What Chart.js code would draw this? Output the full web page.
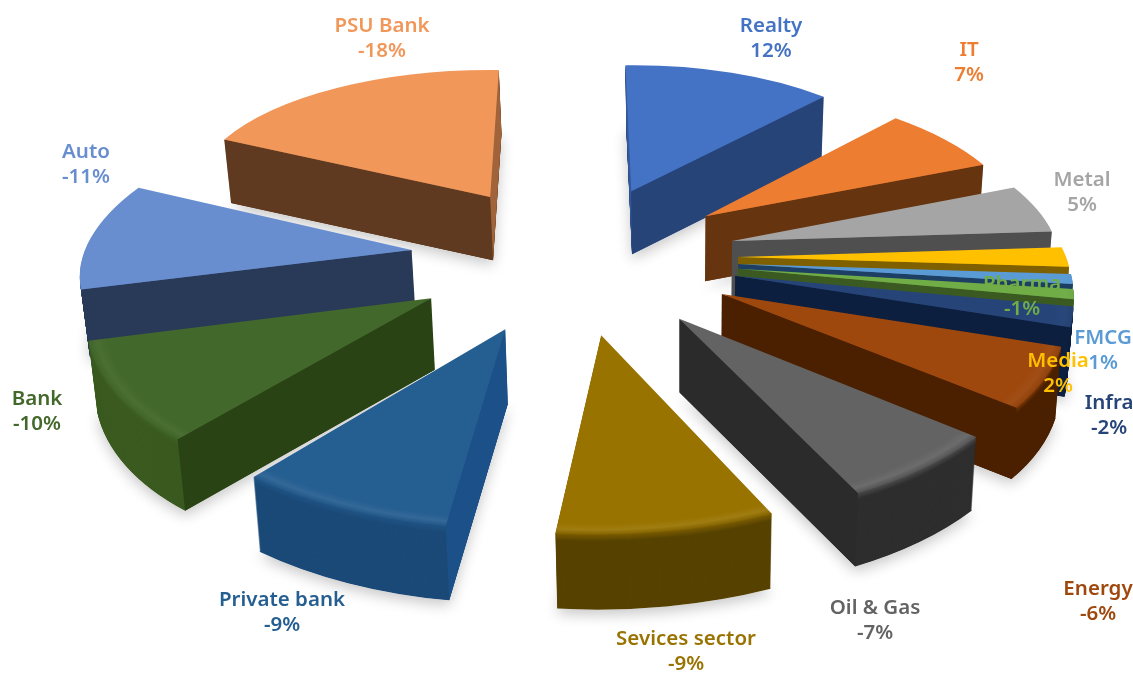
<!DOCTYPE html>
<html>
<head>
<meta charset="utf-8">
<title>Sector returns</title>
<script src="https://cdn.jsdelivr.net/npm/chart.js@4"></script>
<style>
  html, body { margin: 0; padding: 0; background: #fff; }
  canvas { display: block; }
</style>
</head>
<body>
<canvas id="pie" width="1133" height="675"></canvas>
<script>
// data
const sectors = ['Realty', 'IT', 'Metal', 'Media', 'FMCG', 'Pharma', 'Infra', 'Energy', 'Oil & Gas', 'Sevices sector', 'Private bank', 'Bank', 'Auto', 'PSU Bank'];
const returns = [12, 7, 5, 2, 1, -1, -2, -6, -7, -9, -9, -10, -11, -18];

// colours
const topColors = ['#4472c4', '#ed7d31', '#a5a5a5', '#ffc000', '#5b9bd5', '#70ad47', '#264478', '#9e480e', '#636363', '#997300', '#255e91', '#43682b', '#698ed0', '#f1975a'];
const rimColors = ['#264478', '#66340f', '#4f4f4f', '#8a6700', '#1f4e79', '#3a5a22', '#0c1f3f', '#4a2000', '#2e2e2e', '#574200', '#1b4a78', '#3a5a20', '#293a58', '#5f3a20'];
const edgeColors = ['#264478', '#66340f', '#4f4f4f', '#7f6000', '#1d3f63', '#3a5a22', '#0c1f3f', '#4a2000', '#2b2b2b', '#4a3800', '#1c5088', '#2a4315', '#293a58', '#5f3a20'];

// where each label sits (centre x, centre y of the two lines)
const labelSpots = [[771, 39], [969, 63], [1082, 193], [1058, 374], [1103, 351], [1022, 297], [1109, 416], [1098, 602], [875, 621], [686, 652], [282, 613], [37, 412], [86, 165], [382, 39]];

// view of the tilted pie
const view = { cx: 574, cy: 257, rx: 328, ry: 155.5, persp: 0.12, explodeX: 0.5, explodeY: 0.48, depth: 68, shrink: 0.985, shrinkX: 680 };

function project(u, v) {
  const w = 1 - view.persp * v;
  return { x: view.cx + view.rx * u / w, y: view.cy + view.ry * v / w, w };
}

function mix(a, b, t) {
  const pa = parseInt(a.slice(1), 16), pb = parseInt(b.slice(1), 16);
  const ch = s => Math.round(((pa >> s) & 255) * (1 - t) + ((pb >> s) & 255) * t);
  return `#${[16, 8, 0].map(s => ch(s).toString(16).padStart(2, '0')).join('')}`;
}

// corners of one exploded slice on the screen
function sliceGeometry(arc) {
  const a0 = arc.startAngle, a1 = arc.endAngle, am = (a0 + a1) / 2;
  const ox = view.explodeX * Math.cos(am), oy = view.explodeY * Math.sin(am);
  const A = project(ox, oy);
  const B = project(ox + Math.cos(a0), oy + Math.sin(a0));
  const C = project(ox + Math.cos(a1), oy + Math.sin(a1));
  const rimMid = project(ox + Math.cos(am), oy + Math.sin(am));
  const R = arc.outerRadius;
  const sx = R * Math.cos(a0), sy = R * Math.sin(a0);
  const tx = R * Math.cos(a1), ty = R * Math.sin(a1);
  const det = sx * ty - sy * tx;
  const bx = B.x - A.x, by = B.y - A.y, cx = C.x - A.x, cy = C.y - A.y;
  const m = {
    a: (bx * ty - cx * sy) / det, c: (cx * sx - bx * tx) / det,
    b: (by * ty - cy * sy) / det, d: (cy * sx - by * tx) / det
  };
  return { A, B, C, m, h: view.depth / Math.sqrt(rimMid.w), facing: Math.sin(am), sideOrder: oy };
}

function lower(pt, k, h) {
  const s = 1 - (1 - view.shrink) * k / h;
  return { x: view.shrinkX + (pt.x - view.shrinkX) * s, y: pt.y + k };
}

// draws the library's arc element in the slice's plane, k pixels below the top face
function drawArc(ctx, arc, g, k, fill) {
  const saved = arc.options;
  const s = 1 - (1 - view.shrink) * k / g.h;
  ctx.save();
  ctx.translate(view.shrinkX, k);
  ctx.scale(s, 1);
  ctx.translate(-view.shrinkX, 0);
  ctx.transform(g.m.a, g.m.b, g.m.c, g.m.d, g.A.x, g.A.y);
  ctx.translate(-arc.x, -arc.y);
  arc.options = Object.assign({}, saved, { backgroundColor: fill, borderWidth: 0 });
  arc.draw(ctx);
  arc.options = saved;
  ctx.restore();
}

function drawFlatFace(ctx, g, corner, other, color, top) {
  const ex = corner.x - g.A.x, ey = corner.y - g.A.y;
  let nx = -ey, ny = ex;
  // normal pointing away from the slice
  if (nx * (other.x - g.A.x) + ny * (other.y - g.A.y) > 0) { nx = -nx; ny = -ny; }
  if (ny <= 0) return;
  const grazing = ny / Math.hypot(nx, ny) < 0.12;
  const a2 = lower(g.A, g.h, g.h), c2 = lower(corner, g.h, g.h);
  ctx.fillStyle = grazing ? mix(color, top, 0.45) : color;
  ctx.beginPath();
  ctx.moveTo(g.A.x, g.A.y);
  ctx.lineTo(corner.x, corner.y);
  ctx.lineTo(c2.x, c2.y);
  ctx.lineTo(a2.x, a2.y);
  ctx.closePath();
  ctx.fill();
}

const pieIn3d = {
  id: 'pieIn3d',
  beforeDatasetDraw(chart) {
    const ctx = chart.ctx;
    const arcs = chart.getDatasetMeta(0).data;
    const items = arcs.map((arc, i) => ({ arc, i, g: sliceGeometry(arc) }));
    items.sort((p, q) => p.g.sideOrder - q.g.sideOrder);

    // soft shadow on the floor first
    items.forEach(({ arc, g }) => {
      ctx.save();
      ctx.shadowColor = 'rgba(0,0,0,0.22)';
      ctx.shadowBlur = 14;
      ctx.shadowOffsetY = 5;
      drawArc(ctx, arc, g, g.h, '#ffffff');
      ctx.restore();
    });

    items.forEach(({ arc, i, g }) => {
      const top = topColors[i], rim = rimColors[i];
      for (let k = Math.ceil(g.h); k >= 1; k--) {
        const soft = k < 7 ? (7 - k) / 7 * 0.55 : 0;
        drawArc(ctx, arc, g, Math.min(k, g.h), mix(rim, top, soft));
      }
      drawFlatFace(ctx, g, g.B, g.C, edgeColors[i], top);
      drawFlatFace(ctx, g, g.C, g.B, edgeColors[i], top);

      // top face, the rim only rounds off on slices turned towards the viewer
      const bevel = Math.max(0, g.facing);
      const R = arc.outerRadius;
      const grad = ctx.createRadialGradient(arc.x, arc.y, 0, arc.x, arc.y, R);
      grad.addColorStop(0, top);
      grad.addColorStop(0.945, top);
      grad.addColorStop(0.975, mix(top, '#ffffff', 0.07 * bevel));
      grad.addColorStop(1, mix(top, rim, 0.35 * bevel));
      drawArc(ctx, arc, g, 0, grad);
    });
    return false;
  },
  afterDraw(chart) {
    const ctx = chart.ctx;
    ctx.save();
    ctx.font = '600 20.5px "Noto Sans"';
    ctx.textAlign = 'center';
    ctx.textBaseline = 'middle';
    sectors.forEach((name, i) => {
      const [x, y] = labelSpots[i];
      ctx.fillStyle = topColors[i];
      ctx.fillText(name, x, y - 12.5);
      ctx.fillText(`${returns[i]}%`, x, y + 12.5);
    });
    ctx.restore();
  }
};

new Chart(document.getElementById('pie'), {
  type: 'pie',
  data: {
    labels: sectors,
    datasets: [{
      data: returns.map(v => Math.abs(v)),
      backgroundColor: topColors,
      borderWidth: 0
    }]
  },
  options: {
    responsive: false,
    animation: false,
    plugins: { legend: { display: false }, tooltip: { enabled: false } }
  },
  plugins: [pieIn3d]
});
</script>
</body>
</html>
